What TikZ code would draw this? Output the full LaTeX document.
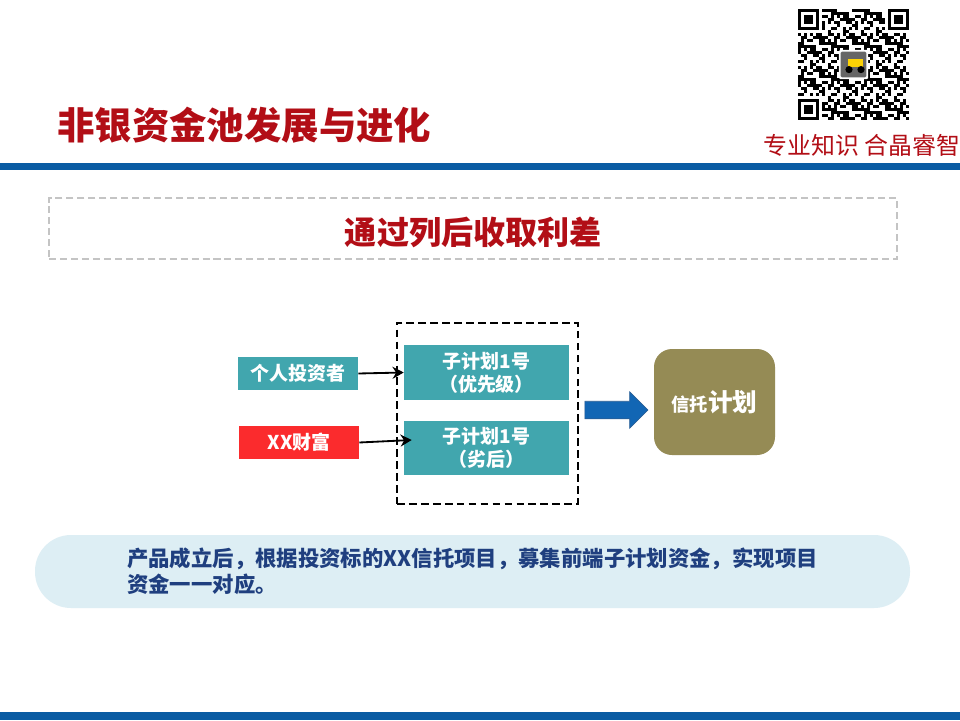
\documentclass[tikz,border=0pt]{standalone}
\usepackage{fontspec}
\setmainfont{Noto Sans CJK SC}
\usepackage{xcolor}
\usetikzlibrary{arrows.meta,shapes.arrows}
\definecolor{titleRed}{HTML}{B20E16}
\definecolor{barBlue}{HTML}{0A5CA3}
\definecolor{bannerGrey}{HTML}{C4C4C4}
\definecolor{planTeal}{HTML}{41A6AE}
\definecolor{wealthRed}{HTML}{FB2B2D}
\definecolor{trustOlive}{HTML}{958B55}
\definecolor{noteBlue}{HTML}{DDEEF4}
\definecolor{noteText}{HTML}{1F3F7F}
\definecolor{arrowBlue}{HTML}{1266B4}
\definecolor{arrowLine}{HTML}{2A5E95}
\tikzset{
  headtext/.style={font=\bfseries\fontsize{22.8}{27}\selectfont, text=titleRed, inner sep=0pt},
  investbox/.style={rectangle, fill=#1, align=center, text=white, font=\bfseries\fontsize{13.5}{16}\selectfont, minimum width=3cm, minimum height=0.825cm, inner sep=0pt},
  planbox/.style={rectangle, fill=planTeal, align=center, text=white, font=\bfseries\fontsize{13.5}{16.4}\selectfont, minimum width=4.125cm, inner sep=0pt},
  flowarrow/.style={-{Stealth[length=2.8mm,width=3mm]}, line width=1.3pt, draw=black},
}

\begin{document}
\begin{tikzpicture}[x=1cm,y=1cm]
  \useasboundingbox (0,0) rectangle (24,18);
  \fill[white] (0,0) rectangle (24,18);
  \fill[barBlue] (0,13.75) rectangle (24,13.925);
  \fill[barBlue] (0,0) rectangle (24,0.2);

  % --- header ---
  \node[headtext, font=\bfseries\fontsize{26.6}{32}\selectfont, anchor=west] (title) at (1.425,14.875) {非银资金池发展与进化};
  \node[anchor=east, inner sep=0pt, text=titleRed, font=\fontsize{17}{20}\selectfont] (slogan) at (24.02,14.375) {专业知识 合晶睿智};

  % --- code square ---
  \begin{scope}[shift={(19.95,15)}, x=0.075cm, y=0.075cm]
    \foreach \col in {0,...,36} {
      \foreach \row in {0,...,36} {
        \pgfmathtruncatemacro{\cell}{mod(\col*\col*3+\row*\row*5+\col*\row*2+\col*3+\row*7,11)}
        \pgfmathtruncatemacro{\keep}{(\cell<6)&&!((\col<8)&&(\row<8))&&!((\col>28)&&(\row>28))&&!((\col<8)&&(\row>28))&&!((\col>13)&&(\col<23)&&(\row>13)&&(\row<23))}
        \ifnum\keep=1
          \fill[black] (\col,\row) rectangle ++(1.02,1.02);
        \fi
      }
    }
    \foreach \ox/\oy in {0/0,0/30,30/30} {
      \fill[black] (\ox,\oy) rectangle ++(7,7);
      \fill[white] (\ox+1,\oy+1) rectangle ++(5,5);
      \fill[black] (\ox+2,\oy+2) rectangle ++(3,3);
    }
    \fill[white, rounded corners=1pt] (13.6,13.6) rectangle (23.4,23.4);
    \fill[black!60, rounded corners=1pt] (14.2,14.2) rectangle (22.8,22.8);
    \fill[yellow!70!orange] (16.5,17.5) rectangle (21.5,20.5);
    \fill[black] (17,16.8) circle (1.2);
    \fill[black] (21,16.8) circle (1.2);
  \end{scope}

  % --- banner ---
  \node[rectangle, draw=bannerGrey, dash pattern=on 5pt off 2.8pt, line width=1.8pt, minimum width=21.2cm, minimum height=1.525cm] (banner) at (11.825,12.2875) {};
  \node[headtext] (bannertext) at (11.83,12.2) {通过列后收取利差};

  % --- structure ---
  \node[rectangle, draw=black, dash pattern=on 5.5pt off 3pt, line width=1.3pt, minimum width=4.525cm, minimum height=4.525cm] (pool) at (12.1875,7.6625) {};
  \node[investbox=planTeal] (person) at (7.45,8.6625) {个人投资者};
  \node[investbox=wealthRed] (wealth) at (7.475,6.9375) {XX财富};
  \node[planbox, minimum height=1.375cm] (senior) at (12.1625,8.6875) {子计划1号\\（优先级）};
  \node[planbox, minimum height=1.35cm] (junior) at (12.1625,6.8) {子计划1号\\（劣后）};
  \node[single arrow, draw=arrowLine, fill=arrowBlue, line width=0.5pt, minimum width=0.9cm, minimum height=1.575cm, single arrow head extend=0.235cm, single arrow tip angle=90, inner xsep=0pt, inner ysep=0.21cm] (feed) at (15.3,7.75) {};
  \node[rectangle, rounded corners=0.45cm, fill=trustOlive, text=white, minimum width=3.025cm, minimum height=2.65cm, inner sep=0pt, font=\bfseries\fontsize{13}{16}\selectfont] (trust) at (17.8625,7.95) {信托{\fontsize{17.5}{20}\selectfont 计划}};

  \draw[flowarrow] (person.east) -- (senior.west);
  \draw[flowarrow] (wealth.east) -- ([xshift=0.2cm,yshift=0.2cm]junior.west);

  % --- note ---
  \node[rectangle, rounded corners=0.9cm, fill=noteBlue, text=noteText, align=left, minimum width=21.875cm, minimum height=1.825cm, inner sep=0pt, font=\bfseries\fontsize{15.2}{18.3}\selectfont] (note) at (11.8125,3.7125) {产品成立后，根据投资标的XX信托项目，募集前端子计划资金，实现项目\\资金一一对应。};
\end{tikzpicture}
\end{document}
